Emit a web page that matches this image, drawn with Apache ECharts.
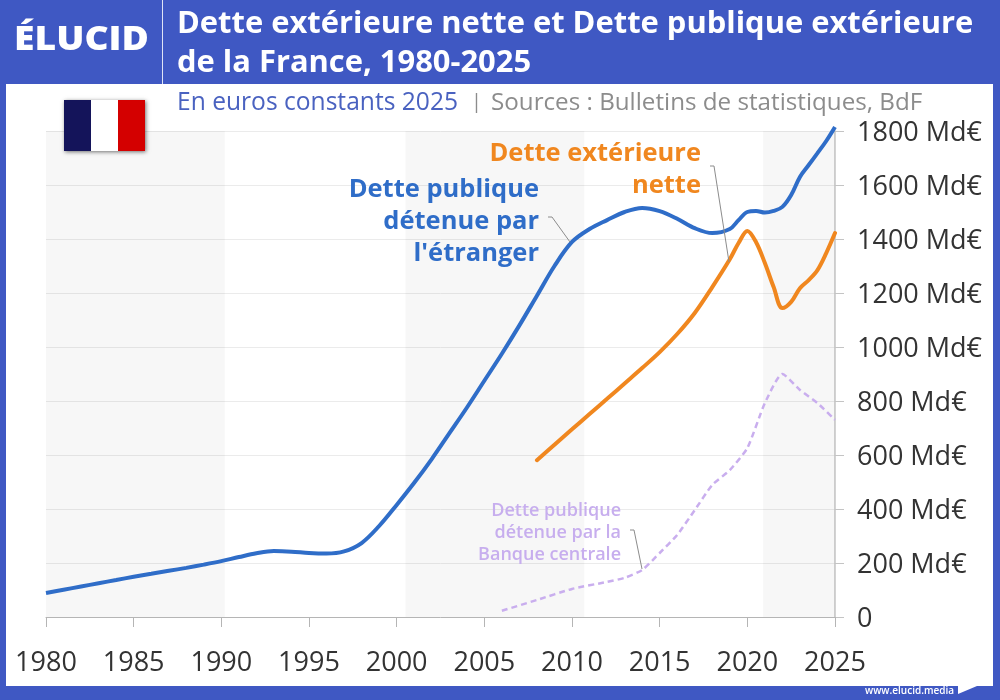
<!DOCTYPE html>
<html lang="fr">
<head>
<meta charset="utf-8">
<title>Dette extérieure nette et Dette publique extérieure de la France</title>
<style>html,body{margin:0;padding:0;background:#fff}#chart{width:1000px;height:700px}</style>
<script src="https://cdn.jsdelivr.net/npm/echarts@6/dist/echarts.min.js"></script>
</head>
<body>
<div id="chart"></div>
<script>
// Dette publique détenue par l'étranger (Md€ constants 2025)
const foreignYears = [1980,1981,1982,1983,1984,1985,1986,1987,1988,1989,1990,1991,1992,1993,1994,1995,1996,1997,1998,1999,2000,2001,2002,2003,2004,2005,2006,2007,2008,2009,2010,2011,2012,2013,2014,2015,2016,2017,2018,2019,2019.5,2020,2020.5,2021,2021.5,2022,2022.5,2023,2023.5,2024,2024.5,2025];
const foreignDebt = [89,101,113,125,137,149,160,171,182,194,207,222,236,244,242,237,235,243,274,337,415,497,585,680,775,875,975,1080,1190,1300,1389,1437,1470,1500,1515,1503,1475,1440,1422,1437,1470,1500,1504,1498,1504,1519,1563,1630,1674,1718,1763,1815];
// Dette extérieure nette
const netYears = [2008,2009,2010,2011,2012,2013,2014,2015,2016,2017,2018,2019,2019.5,2020,2020.5,2021,2021.5,2022,2022.5,2023,2023.5,2024,2024.5,2025];
const netDebt = [581,638,695,752,808,865,922,981,1048,1126,1222,1325,1385,1430,1388,1311,1222,1144,1167,1218,1248,1285,1348,1422];
// Dette publique détenue par la Banque centrale
const bcYears = [2006,2008,2010,2012,2013,2014,2015,2016,2017,2018,2019,2020,2021,2022,2023,2024,2025];
const bcDebt = [23,63,104,130,145,174,237,304,396,489,544,626,792,900,841,792,730];
// Périodes grisées
const bandStarts = [1980,2000.5,2020.9];
const bandEnds = [1990.2,2010.7,2025];
const unit = ' Md€';

const pair = (xs, ys) => xs.map((x, i) => [x, ys[i]]);
const FONT = '"Open Sans"';
const BLUE = '#3f58c3';

const chart = echarts.init(document.getElementById('chart'), null, {renderer: 'canvas'});

function label(text, right, top, color, size, weight, lh) {
  return {type: 'text', z: 20, style: {text, x: right, y: top, align: 'right', verticalAlign: 'top',
    fill: color, font: `${weight} ${size}px ${FONT}`, lineHeight: lh}};
}
function leader(points) {
  return {type: 'polyline', z: 15, shape: {points}, style: {stroke: '#8c8c8c', lineWidth: 1, fill: null}};
}

chart.setOption({
  animation: false,
  backgroundColor: '#ffffff',
  textStyle: {fontFamily: 'Open Sans'},
  grid: {left: 46, right: 165, top: 131, height: 486},
  xAxis: {
    type: 'value', min: 1980, max: 2025, interval: 5,
    splitLine: {show: false},
    axisLine: {onZero: false, lineStyle: {color: '#b5b5b5', width: 1}},
    axisTick: {length: 10, lineStyle: {color: '#b5b5b5'}},
    axisLabel: {color: '#333', fontSize: 27, margin: 33, fontFamily: 'Open Sans',
      formatter: v => String(v), showMinLabel: true, showMaxLabel: true}
  },
  yAxis: {
    type: 'value', position: 'right', min: 0, max: 1800, interval: 200,
    splitLine: {lineStyle: {color: '#ebebeb', width: 1}},
    axisLine: {show: true, lineStyle: {color: '#c4c4c4', width: 1.5}},
    axisTick: {show: true, length: 9, lineStyle: {color: '#c4c4c4'}},
    axisLabel: {margin: 22, align: 'left',
      rich: {v: {color: '#333', fontSize: 27, fontFamily: 'Open Sans', padding: [4, 0, 0, 0]}},
      formatter: v => `{v|${v === 0 ? '0' : v + unit}}`}
  },
  series: [
    {
      type: 'line', data: pair(bcYears, bcDebt), showSymbol: false, smooth: 0.2, clip: false, z: 3,
      lineStyle: {color: '#c9aeee', width: 2.5, type: [6, 4]},
      markArea: {silent: true, itemStyle: {color: 'rgba(0,0,0,0.03)'},
        data: bandStarts.map((s, i) => [{xAxis: s}, {xAxis: bandEnds[i]}])}
    },
    {
      type: 'line', data: pair(netYears, netDebt), showSymbol: false, smooth: 0.35, clip: false, z: 4,
      lineStyle: {color: '#f0871f', width: 4, cap: 'round'}
    },
    {
      type: 'line', data: pair(foreignYears, foreignDebt), showSymbol: false, smooth: 0.35, clip: false, z: 5,
      lineStyle: {color: '#2f6dc8', width: 4}
    }
  ],
  graphic: [
    // Cadre bleu et bandeau de titre
    {type: 'rect', z: 10, shape: {x: 0, y: 0, width: 1000, height: 84}, style: {fill: BLUE}},
    {type: 'rect', z: 10, shape: {x: 0, y: 0, width: 6, height: 700}, style: {fill: BLUE}},
    {type: 'rect', z: 10, shape: {x: 993, y: 0, width: 7, height: 700}, style: {fill: BLUE}},
    {type: 'rect', z: 10, shape: {x: 0, y: 686, width: 1000, height: 14}, style: {fill: BLUE}},
    {type: 'rect', z: 11, shape: {x: 162, y: 0, width: 1, height: 84}, style: {fill: '#dfe4f6'}},
    {type: 'text', z: 12, originX: 14, originY: 42, scaleX: 1.13, style: {text: 'ÉLUCID', x: 14, y: 41, verticalAlign: 'middle', fill: '#fff', font: `800 33px ${FONT}`}},
    {type: 'text', z: 12, style: {text: 'Dette extérieure nette et Dette publique extérieure', x: 177, y: 24, verticalAlign: 'middle', fill: '#fff', font: `700 30.9px ${FONT}`}},
    {type: 'text', z: 12, style: {text: 'de la France, 1980-2025', x: 177, y: 63, verticalAlign: 'middle', fill: '#fff', font: `700 30.9px ${FONT}`}},
    // Sous-titre
    {type: 'text', z: 12, style: {text: 'En euros constants 2025', x: 177, y: 103, verticalAlign: 'middle', fill: '#4a62c0', font: `400 24.6px ${FONT}`}},
    {type: 'text', z: 12, style: {text: '|', x: 471, y: 102, verticalAlign: 'middle', fill: '#8c8c8c', font: `400 20px ${FONT}`}},
    {type: 'text', z: 12, style: {text: 'Sources : Bulletins de statistiques, BdF', x: 491, y: 103, verticalAlign: 'middle', fill: '#8c8c8c', font: `400 24.2px ${FONT}`}},
    // Drapeau
    {type: 'rect', z: 12, shape: {x: 64, y: 100, width: 81, height: 51}, style: {fill: '#fff', shadowBlur: 4, shadowColor: 'rgba(0,0,0,0.55)', shadowOffsetX: 1, shadowOffsetY: 1}},
    {type: 'rect', z: 13, shape: {x: 64, y: 100, width: 27, height: 51}, style: {fill: '#14145a'}},
    {type: 'rect', z: 13, shape: {x: 118, y: 100, width: 27, height: 51}, style: {fill: '#d40000'}},
    // Étiquettes des courbes
    label('Dette publique\ndétenue par\nl\'étranger', 539, 174, '#2f6dc8', 25.5, 700, 32),
    label('Dette extérieure\nnette', 701, 138, '#f0871f', 25.5, 700, 32),
    label('Dette publique\ndétenue par la\nBanque centrale', 621, 500, '#c7aeee', 18, 600, 22),
    leader([[548, 217], [552, 217], [570, 242]]),
    leader([[710, 166], [714, 166], [729, 262]]),
    leader([[630, 530], [634, 530], [642, 569]]),
    // Pied de page
    {type: 'text', z: 12, style: {text: 'www.elucid.media', x: 954, y: 691, align: 'right', verticalAlign: 'middle', fill: '#fff', font: `600 10px ${FONT}`}},
    {type: 'polygon', z: 12, shape: {points: [[958, 686], [977, 679], [977, 686], [958, 694]]}, style: {fill: '#fff'}}
  ]
});
</script>
</body>
</html>
